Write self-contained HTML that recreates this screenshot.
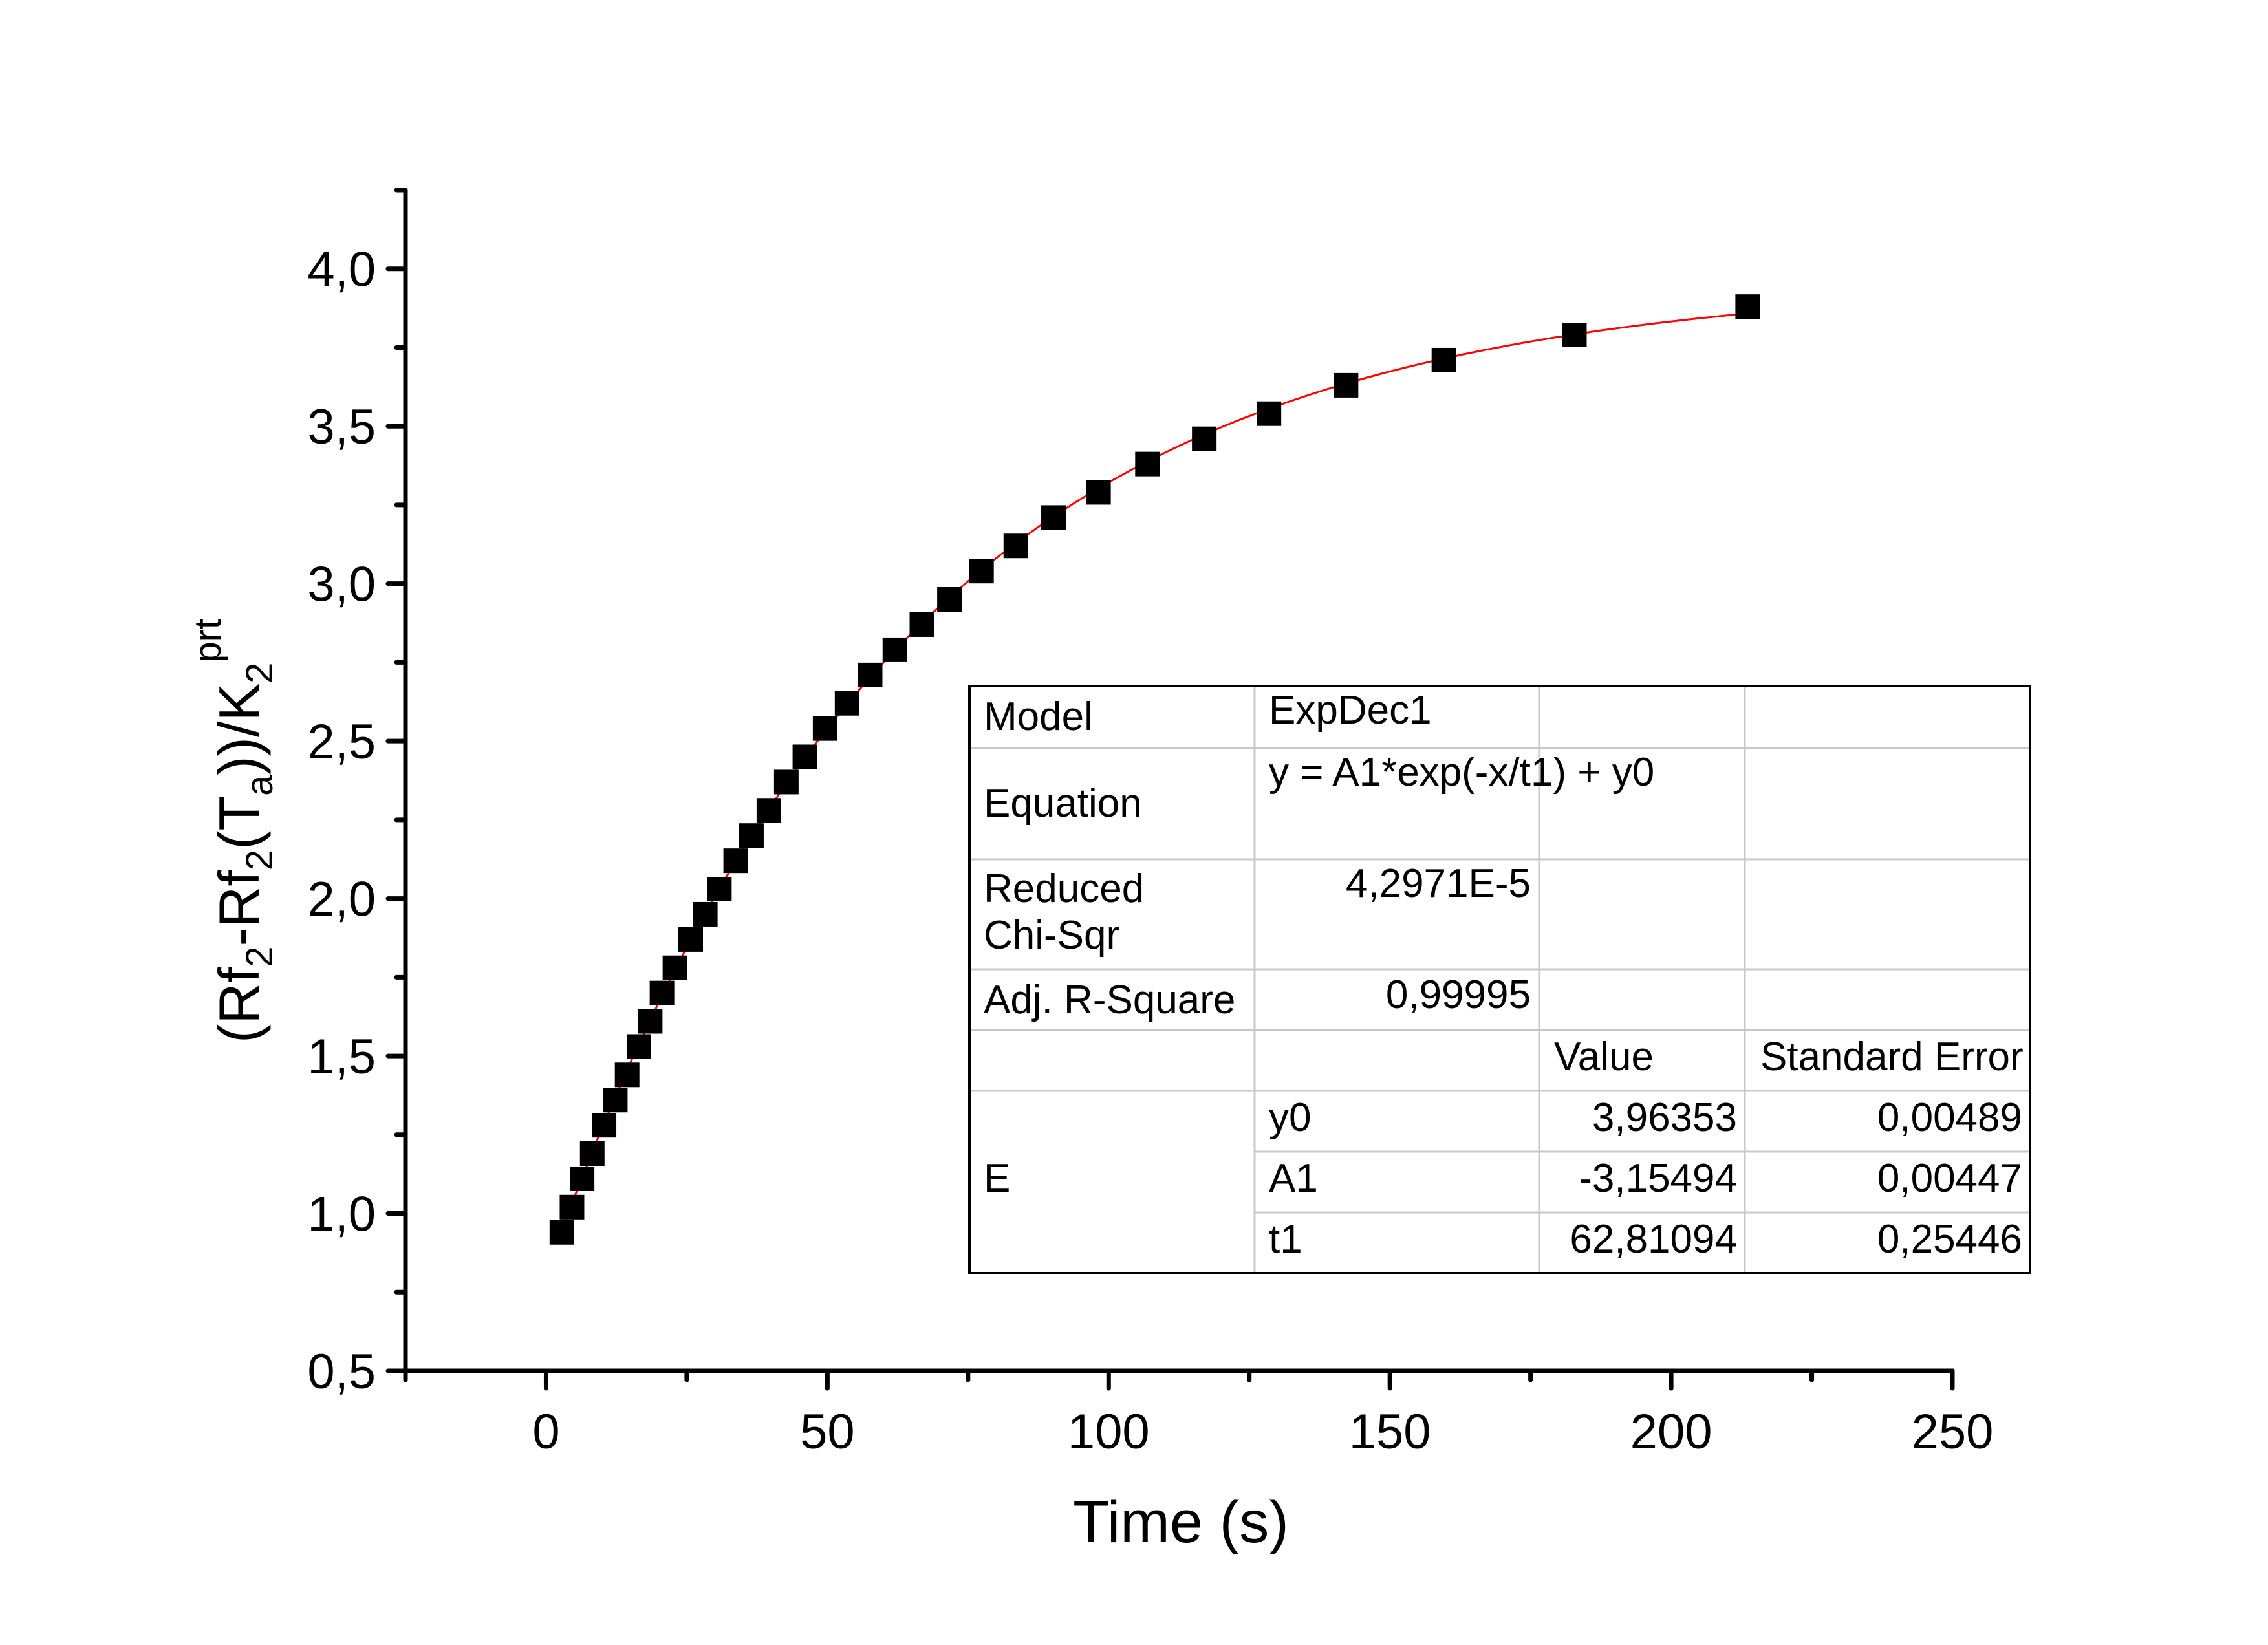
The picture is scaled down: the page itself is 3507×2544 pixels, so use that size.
<!DOCTYPE html>
<html><head><meta charset="utf-8"><style>
html,body{margin:0;padding:0;background:#fff;}
svg{display:block;font-family:"Liberation Sans",Arial,sans-serif;}
</style></head><body>
<svg id="chart" width="3507" height="2544" viewBox="0 0 3507 2544" xmlns="http://www.w3.org/2000/svg">
<rect width="3507" height="2544" fill="#fff"/>
<g id="axes"></g>
<g id="fit"></g>
<g id="pts"></g>
<text x="1826" y="2385" font-size="92" text-anchor="middle">Time (s)</text>
<text transform="translate(400,1285) rotate(-90)" font-size="88" text-anchor="middle">(Rf<tspan font-size="58" dy="21">2</tspan><tspan dy="-21">-Rf</tspan><tspan font-size="58" dy="21">2</tspan><tspan dy="-21">(T</tspan><tspan font-size="58" dy="21">a</tspan><tspan dy="-21">))/K</tspan><tspan font-size="58" dy="21">2</tspan><tspan font-size="58" dy="-80">prt</tspan></text>
<g id="table"></g>
</svg>
<script>
const xs = [2.8,4.6,6.4,8.2,10.3,12.3,14.4,16.5,18.5,20.6,22.9,25.7,28.3,30.8,33.7,36.5,39.6,42.7,46.0,49.6,53.5,57.6,62.0,66.8,71.7,77.4,83.5,90.2,98.2,106.9,117.0,128.5,142.2,159.6,182.8,213.6];
const ys = [0.94,1.02,1.11,1.19,1.28,1.36,1.44,1.53,1.61,1.70,1.78,1.87,1.95,2.03,2.12,2.20,2.28,2.37,2.45,2.54,2.62,2.71,2.79,2.87,2.95,3.04,3.12,3.21,3.29,3.38,3.46,3.54,3.63,3.71,3.79,3.88];
const fitY0 = 3.96353, fitA1 = -3.15494, fitT1 = 62.81094;
const xTicks = [0,50,100,150,200,250];
const xTickLabels = ["0","50","100","150","200","250"];
const yTicks = [0.5,1.0,1.5,2.0,2.5,3.0,3.5,4.0];
const yTickLabels = ["0,5","1,0","1,5","2,0","2,5","3,0","3,5","4,0"];

const NS="http://www.w3.org/2000/svg";
const L=627,R=3019,T=294,B=2120;
const xMin=-25,xMax=250,yMin=0.5,yMax=4.25;
const sx=v=>L+(v-xMin)/(xMax-xMin)*(R-L);
const sy=v=>B-(v-yMin)/(yMax-yMin)*(B-T);
function mk(tag,attrs,parent){const e=document.createElementNS(NS,tag);for(const k in attrs)e.setAttribute(k,attrs[k]);parent.appendChild(e);return e;}
const ax=document.getElementById('axes');
let e;
e=mk('line',{x1:L,y1:T,x2:L,y2:B+3,stroke:'#000','stroke-width':7},ax);


e=mk('line',{x1:L-3,y1:B,x2:R+3,y2:B,stroke:'#000','stroke-width':7},ax);


for(let v=0.5;v<=4.25+1e-9;v+=0.25){
  const major=Math.abs(v*2-Math.round(v*2))<1e-6;
  e=mk('line',{x1:L-(major?27:14),y1:sy(v),x2:L,y2:sy(v),stroke:'#000','stroke-width':7,'stroke-linecap':'round'},ax);
  
  
}
yTicks.forEach((v,i)=>{
  e=mk('text',{x:L-46,y:sy(v)+27,'font-size':76,'text-anchor':'end'},ax);
  e.textContent=yTickLabels[i];
  
  
});
for(let v=-25;v<=250;v+=25){
  const major=v%50===0;
  e=mk('line',{x1:sx(v),y1:B,x2:sx(v),y2:B+(major?27:14),stroke:'#000','stroke-width':7,'stroke-linecap':'round'},ax);
  
  
}
xTicks.forEach((v,i)=>{
  e=mk('text',{x:sx(v),y:B+120,'font-size':76,'text-anchor':'middle'},ax);
  e.textContent=xTickLabels[i];
  
  
});
const fg=document.getElementById('fit');
let d='';
const x0=xs[0],x1=xs[xs.length-1];
for(let i=0;i<=200;i++){const x=x0+(x1-x0)*i/200;const y=fitY0+fitA1*Math.exp(-x/fitT1);d+=(i?'L':'M')+sx(x).toFixed(1)+' '+sy(y).toFixed(1);}
const pg=document.getElementById('pts');
const s=38;
xs.forEach((x,i)=>{
  e=mk('rect',{x:sx(x)-s/2,y:sy(ys[i])-s/2,width:s,height:s,fill:'#000'},pg);
  
  
});
e=mk('path',{d:d,fill:'none',stroke:'#ff0000','stroke-width':3},fg);


const tg=document.getElementById('table');
const cols=[1499,1940,2380,2698,3139];
const rows=[1061,1157,1329,1499,1593,1687,1781,1875,1969];
e=mk('rect',{x:cols[0],y:rows[0],width:cols[4]-cols[0],height:rows[8]-rows[0],fill:'#fff',stroke:'none'},tg);


const g='#c8c8c8';
function hl(y,x1,x2){e=mk('line',{x1:x1,y1:y,x2:x2,y2:y,stroke:g,'stroke-width':3},tg);}
function vl(x,y1,y2){e=mk('line',{x1:x,y1:y1,x2:x,y2:y2,stroke:g,'stroke-width':3},tg);}
for(let i=1;i<=5;i++)hl(rows[i],cols[0],cols[4]);
hl(rows[6],cols[1],cols[4]);hl(rows[7],cols[1],cols[4]);
vl(cols[1],rows[0],rows[8]);vl(cols[2],rows[0],rows[8]);vl(cols[3],rows[0],rows[8]);
e=mk('rect',{x:cols[0],y:rows[0],width:cols[4]-cols[0],height:rows[8]-rows[0],fill:'none',stroke:'#000','stroke-width':4},tg);


const cells=[
 ['Model',1521,1129,'start'],['ExpDec1',1962,1119,'start'],
 ['Equation',1521,1263,'start'],['y = A1*exp(-x/t1) + y0',1962,1215,'start'],
 ['Reduced',1521,1395,'start'],['Chi-Sqr',1521,1467,'start'],['4,2971E-5',2367,1387,'end'],
 ['Adj. R-Square',1521,1567,'start'],['0,99995',2367,1559,'end'],
 ['Value',2403,1655,'start'],['Standard Error',2722,1655,'start'],
 ['y0',1962,1749,'start'],['3,96353',2686,1749,'end'],['0,00489',3127,1749,'end'],
 ['E',1521,1843,'start'],['A1',1962,1843,'start'],['-3,15494',2686,1843,'end'],['0,00447',3127,1843,'end'],
 ['t1',1962,1937,'start'],['62,81094',2686,1937,'end'],['0,25446',3127,1937,'end']
];
cells.forEach(c=>{
  e=mk('text',{x:c[1],y:c[2],'font-size':62,'text-anchor':c[3]},tg);
  e.textContent=c[0];
  
  
});
</script>
</body></html>
